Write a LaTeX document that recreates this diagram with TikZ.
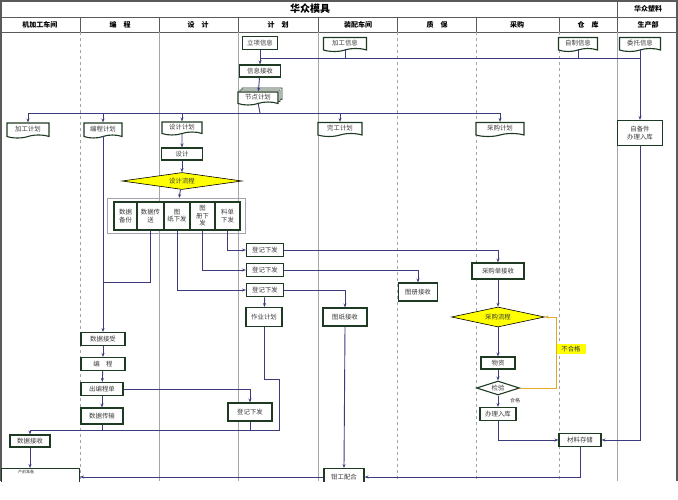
\documentclass[tikz,border=0pt]{standalone}
\usepackage{fontspec}
\setmainfont{Noto Sans CJK SC}
\usepackage{xcolor}
\usepackage{tikz}
\usetikzlibrary{arrows.meta,shapes.geometric,shapes.symbols,shadows}
\definecolor{flow}{HTML}{3B3B7E}
\definecolor{edge}{HTML}{1F3A22}
\definecolor{ink}{HTML}{3A3A3A}
\definecolor{lanegray}{HTML}{A4A4AC}
\definecolor{framegray}{HTML}{5A5A5A}
\definecolor{hilite}{HTML}{FFFF00}
\definecolor{gold}{HTML}{E3A92B}
\tikzset{
  box/.style={rectangle, draw=edge, line width=1.1pt, fill=white, font=\fontsize{6.4}{7.4}\selectfont,
              text=ink, inner sep=1pt, align=center},
  doc/.style={box, tape, tape bend top=none, tape bend height=3pt},
  cell/.style={box, minimum height=28pt},
  dec/.style={diamond, draw=black, line width=0.6pt, fill=hilite, font=\fontsize{6.4}{7.4}\selectfont,
              text=ink, inner sep=0pt},
  head/.style={font=\fontsize{7}{8}\selectfont\bfseries, text=black},
  tag/.style={font=\fontsize{5}{6}\selectfont, text=ink, inner sep=0pt},
  link/.style={draw=flow, line width=0.9pt},
  arr/.style={link, -{Stealth[length=1.4mm]}},
  backarr/.style={draw=gold, line width=0.9pt, -{Stealth[length=1.4mm]}},
  lanesolid/.style={draw=lanegray, line width=0.5pt},
  lanedash/.style={draw=lanegray, line width=0.5pt, dashed},
  framel/.style={draw=framegray, line width=0.8pt},
}

\begin{document}
\begin{tikzpicture}[x=1pt, y=-1pt]
  \fill[white] (0,0) rectangle (678,500);
  \useasboundingbox (0,0) rectangle (678,500);
  \begin{scope}
  \clip (0,0) rectangle (678,481);

  % frame and lanes
  \draw[framel, line width=1.4pt] (0,1) -- (678,1);
  \draw[framel, line width=1.4pt] (1,1) -- (1,481);
  \draw[framel, line width=1.4pt] (677,1) -- (677,481);
  \draw[framel] (0,17) -- (678,17);
  \draw[framel] (0,32) -- (678,32);
  \draw[framel] (617,1) -- (617,17);
  \foreach \x in {80,159,238,318,397,476,559,617}
    \draw[framel, line width=0.6pt] (\x,17) -- (\x,32);
  \foreach \x in {80,397,476,559}
    \draw[lanedash] (\x,32) -- (\x,481);
  \foreach \x in {159,238,318,617}
    \draw[lanesolid] (\x,32) -- (\x,481);

  \node[font=\fontsize{10}{11}\selectfont\bfseries] (ttl) at (310,9) {华众模具};
  \node[head] (ttl2) at (648,9) {华众塑料};
  \node[head] (h1) at (40,25) {机加工车间};
  \node[head] (h2) at (120,25) {编\hspace{1em}程};
  \node[head] (h3) at (198,25) {设\hspace{1em}计};
  \node[head] (h4) at (278,25) {计\hspace{1em}划};
  \node[head] (h5) at (358,25) {装配车间};
  \node[head] (h6) at (437,25) {质\hspace{1em}保};
  \node[head] (h7) at (517,25) {采购};
  \node[head] (h8) at (588,25) {仓\hspace{1em}库};
  \node[head] (h9) at (648,25) {生产部};

  % information sources
  \node[box, minimum width=35pt, minimum height=13pt] (lxxx) at (260,43) {立项信息};
  \node[doc, minimum width=43pt, minimum height=14pt] (jgxx) at (345,43) {加工信息};
  \node[doc, minimum width=39pt, minimum height=14pt] (zzxx) at (578,43) {自制信息};
  \node[doc, minimum width=41pt, minimum height=14pt] (wtxx) at (640,43) {委托信息};
  \node[box, minimum width=41pt, minimum height=12pt] (xxjs) at (260,71) {信息接收};
  \node[doc, minimum width=40pt, minimum height=13pt,
        double copy shadow={shadow xshift=2pt, shadow yshift=2pt, draw=edge, line width=0.8pt}] (jdjh) at (258,97) {节点计划};
  \coordinate (bus1) at (260,58);
  \coordinate (bus2) at (260,113);

  % plans
  \node[doc, minimum width=42pt, minimum height=15pt] (jgjh) at (28,129) {加工计划};
  \node[doc, minimum width=38pt, minimum height=15pt] (bcjh) at (103,129) {编程计划};
  \node[doc, minimum width=40pt, minimum height=13pt] (sjjh) at (182,127) {设计计划};
  \node[doc, minimum width=44pt, minimum height=14pt] (wgjh) at (340,128) {完工计划};
  \node[doc, minimum width=48pt, minimum height=14pt] (cgjh) at (500,128) {采购计划};
  \node[box, minimum width=45pt, minimum height=25pt] (zbj) at (640,133) {自备件\\办理入库};

  % design
  \node[box, minimum width=41pt, minimum height=12pt] (sj) at (182,154) {设计};
  \node[dec, shape aspect=6, minimum width=120pt, minimum height=17pt] (sjlc) at (182,181) {设计流程};
  \node[rectangle, draw=lanegray, line width=1pt, minimum width=138pt, minimum height=35pt] (grp) at (176,216) {};
  \node[cell, minimum width=23pt] (c1) at (125.5,216) {数据\\备份};
  \node[cell, minimum width=27pt] (c2) at (150.5,216) {数据传\\送};
  \node[cell, minimum width=26pt] (c3) at (177,216) {图\\纸下发};
  \node[cell, minimum width=25pt] (c4) at (202.5,216) {图\\册下\\发};
  \node[cell, minimum width=25pt] (c5) at (227.5,216) {料单\\下发};
  \coordinate (jn) at (103,282);

  % release
  \node[box, minimum width=37pt, minimum height=13pt] (dj1) at (265,250) {登记下发};
  \node[box, minimum width=37pt, minimum height=13pt] (dj2) at (265,270) {登记下发};
  \node[box, minimum width=37pt, minimum height=13pt] (dj3) at (265,290) {登记下发};
  \node[box, minimum width=36pt, minimum height=19pt] (zyjh) at (264,317) {作业计划};
  \node[box, minimum width=44pt, minimum height=18pt] (tzjs) at (345,317) {图纸接收};
  \node[box, minimum width=39pt, minimum height=18pt] (tcjs) at (418,292) {图册接收};
  \node[box, minimum width=52pt, minimum height=16pt] (cgd) at (498,271) {采购单接收};

  % purchasing
  \node[dec, shape aspect=4.6, minimum width=93pt, minimum height=20pt] (cglc) at (498,317) {采购流程};
  \node[box, minimum width=34pt, minimum height=12pt] (wz) at (498,363) {物资};
  \node[dec, fill=white, draw=edge, line width=1.1pt, shape aspect=3, minimum width=43pt, minimum height=14pt] (jy) at (498,388) {检验};
  \node[tag] (hg) at (515,401) {合格};
  \node[box, minimum width=36pt, minimum height=13pt] (blrk) at (498,414) {办理入库};
  \node[fill=hilite, font=\fontsize{6.4}{7.4}\selectfont, text=ink, inner sep=0pt,
        minimum width=29pt, minimum height=10pt] (bhg) at (571,349) {不合格};
  \coordinate (fbk) at (556,388);
  \node[box, minimum width=42pt, minimum height=13pt] (clcc) at (580,440) {材料存储};

  % programming
  \node[box, minimum width=44pt, minimum height=13pt] (sjjsd) at (103,339) {数据接受};
  \node[box, minimum width=44pt, minimum height=13pt] (bc) at (103,364) {编\hspace{1em}程};
  \node[box, minimum width=42pt, minimum height=13pt] (cbcd) at (102,389) {出编程单};
  \node[box, minimum width=42pt, minimum height=16pt] (sjcs) at (102,416) {数据传输};
  \node[box, minimum width=44pt, minimum height=18pt] (dj4) at (250,412) {登记下发};
  \coordinate (zyk) at (279,379);
  \coordinate (b3r) at (279,430);
  \node[box, minimum width=40pt, minimum height=12pt] (sjjs) at (30,441) {数据接收};

  % bottom
  \node[box, minimum width=40pt, minimum height=17pt] (qgph) at (344,477) {钳工配合};
  \node[box, anchor=north west, minimum width=78pt, minimum height=24pt] (cqzb) at (1,468) {};
  \node[tag, font=\fontsize{4}{5}\selectfont] (cqzbt) at (26,472) {产前准备};

  % connectors
  \draw[arr] (lxxx) -- (xxjs);
  \draw[link] (jgxx.south) |- (bus1);
  \draw[link] (zzxx.south) |- (bus1);
  \draw[link] (bus1) -- (bus1 -| wtxx.south);
  \draw[arr] (wtxx.south) -- (zbj.north);
  \draw[arr] (xxjs) -- (jdjh);
  \draw[link] (jdjh.south) -- (bus2);
  \draw[arr] (bus2) -| (jgjh.north);
  \draw[arr] (bus2) -| (bcjh.north);
  \draw[arr] (bus2) -| (sjjh.north);
  \draw[arr] (bus2) -| (wgjh.north);
  \draw[arr] (bus2) -| (cgjh.north);
  \draw[arr] (sjjh) -- (sj);
  \draw[arr] (sj) -- (sjlc);
  \draw[arr] (sjlc) -- (grp);
  \draw[arr] (c5.south) |- (dj1.west);
  \draw[arr] (c4.south) |- (dj2.west);
  \draw[arr] (c3.south) |- (dj3.west);
  \draw[link] (c2.south) |- (jn);
  \draw[arr] (dj1.east) -| (cgd.north);
  \draw[arr] (dj2.east) -| (tcjs.north);
  \draw[arr] (dj3.east) -| (tzjs.north);
  \draw[arr] (dj3) -- (zyjh);
  \draw[arr] (bcjh.south) -- (sjjsd.north);
  \draw[arr] (sjjsd) -- (bc);
  \draw[arr] (bc) -- (cbcd);
  \draw[arr] (cbcd) -- (sjcs);
  \draw[arr] (cbcd.east) -| (dj4.north);
  \draw[arr] (zyjh.south) |- (zyk) -- (b3r) -| (sjjs.north);
  \draw[link] (dj4.south) |- (b3r);
  \draw[link] (sjcs.south) |- (b3r);
  \draw[arr] (sjjs.south) -- (sjjs.south |- cqzb.north);
  \draw[arr] (cgd) -- (cglc);
  \draw[arr] (cglc) -- (wz);
  \draw[arr] (wz) -- (jy);
  \draw[arr] (jy) -- (blrk);
  \draw[backarr] (jy.east) -- (fbk) |- (cglc.east);
  \draw[arr] (blrk.south) |- (clcc.west);
  \draw[arr] (zbj.south) |- (clcc.east);
  \draw[arr] (clcc.south) |- (qgph.east);
  \draw[arr] (tzjs.south) -- (qgph.north);
  \draw[arr] (qgph.west) -- (qgph.west -| cqzb.east);
  \end{scope}
\end{tikzpicture}
\end{document}
